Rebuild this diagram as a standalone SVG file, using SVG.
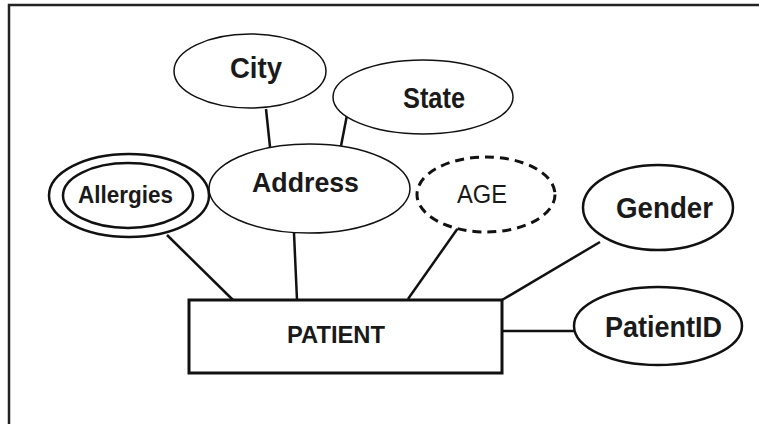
<svg xmlns="http://www.w3.org/2000/svg" width="759" height="424" viewBox="0 0 759 424">
<style>
.attr{fill:#fff;stroke:#111;}
.thin{stroke-width:1.5;}
.med{stroke-width:2.5;}
.dash{stroke-width:3;stroke-dasharray:9 6;}
.lbl{font-family:"Liberation Sans",Arial,sans-serif;font-weight:bold;fill:#1a1a1a;text-anchor:middle;}
.reg{font-weight:normal;}
.conn line{stroke:#111;stroke-width:2.5;}
</style>
<rect width="759" height="424" fill="#fff"/>
<path d="M9,424 V5 H759" fill="none" stroke="#222" stroke-width="2.5"/>
<g class="conn" id="connectors">
<line x1="266" y1="109" x2="270" y2="147"/>
<line x1="347" y1="115" x2="341" y2="146"/>
<line x1="167" y1="235" x2="233" y2="300"/>
<line x1="294" y1="233" x2="297" y2="300"/>
<line x1="458" y1="228" x2="408" y2="299"/>
<line x1="600" y1="242" x2="502" y2="300"/>
<line x1="502" y1="331" x2="574" y2="331"/>
</g>
<g id="city">
<ellipse class="attr thin" cx="250" cy="71" rx="76" ry="37"/>
<text class="lbl" x="256" y="78" font-size="29" textLength="52" lengthAdjust="spacingAndGlyphs">City</text>
</g>
<g id="state">
<ellipse class="attr thin" cx="423" cy="97" rx="90" ry="37"/>
<text class="lbl" x="434" y="108" font-size="29" textLength="62" lengthAdjust="spacingAndGlyphs">State</text>
</g>
<g id="address">
<ellipse class="attr thin" cx="309.5" cy="188.5" rx="100.5" ry="44.5"/>
<text class="lbl" x="305.5" y="192" font-size="27" textLength="107" lengthAdjust="spacingAndGlyphs">Address</text>
</g>
<g id="allergies">
<ellipse class="attr med" cx="129" cy="195.5" rx="80" ry="41.5"/>
<ellipse class="attr med" cx="128" cy="195.5" rx="65" ry="32.5"/>
<text class="lbl" x="125.5" y="203" font-size="24" textLength="95" lengthAdjust="spacingAndGlyphs">Allergies</text>
</g>
<g id="age">
<ellipse class="attr dash" cx="486" cy="194.5" rx="69" ry="37.5"/>
<text class="lbl reg" x="482" y="203" font-size="25" textLength="50" lengthAdjust="spacingAndGlyphs">AGE</text>
</g>
<g id="gender">
<ellipse class="attr med" cx="658" cy="207.5" rx="75" ry="42.5"/>
<text class="lbl" x="664.5" y="218" font-size="29" textLength="97" lengthAdjust="spacingAndGlyphs">Gender</text>
</g>
<g id="patientid">
<ellipse class="attr med" cx="658" cy="326" rx="84" ry="39"/>
<text class="lbl" x="663.5" y="337" font-size="29" textLength="117" lengthAdjust="spacingAndGlyphs">PatientID</text>
</g>
<g id="patient">
<rect class="attr" x="189" y="300" width="313" height="73" stroke-width="3"/>
<text class="lbl" x="336" y="343" font-size="24" textLength="98" lengthAdjust="spacingAndGlyphs">PATIENT</text>
</g>
</svg>
